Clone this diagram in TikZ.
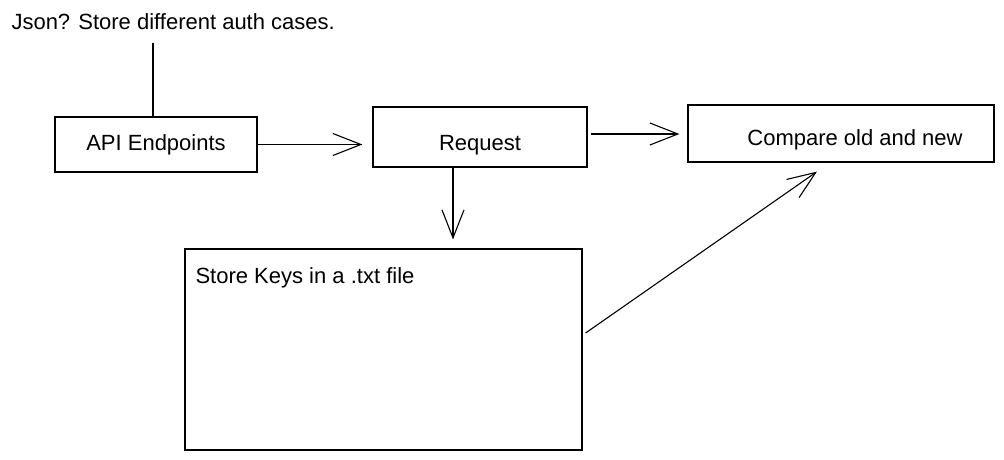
\documentclass[tikz,border=0pt]{standalone}
\usepackage{fontspec}
\setmainfont{Liberation Sans}
\usepackage{tikz}
\usetikzlibrary{arrows.meta}

\begin{document}
\begin{tikzpicture}[x=1pt,y=-1pt,
        box/.style={shape=rectangle,draw=black,line width=1.2pt,inner sep=0pt},
        link/.style={line width=1.1pt,-{Straight Barb[length=28pt,width=22pt]}},
        font=\fontsize{22}{26}\selectfont]
        \useasboundingbox (0,0) rectangle (1004,460);

        \node[anchor=west] (J) at (8,22) {Json? Store different auth cases.};
        \node[box,minimum width=202pt,minimum height=55pt] (A) at (156,144.5) {API Endpoints};
        \node[box,minimum width=214pt,minimum height=60pt] (R) at (480,137) {\raisebox{-6pt}[\height][0pt]{Request}};
        \node[box,minimum width=306pt,minimum height=57pt] (C) at (841,133.5) {\hspace{28pt}\raisebox{-4pt}[\height][0pt]{Compare old and new}};
        \node[box,minimum width=397pt,minimum height=201pt] (S) at (383.5,349.5) {};
        \node[anchor=west] (K) at (192,278) {Store Keys in a .txt file};

        \coordinate (J1) at (153,43);
        \draw [line width=1.1pt](J1) -- (J1 |- A.north);

        \path [link,shorten >=10pt](A.east) edge (R.west |- A.east);
        \path [link,shorten <=3pt,shorten >=8pt](R.east |- 0,134) edge (C.west |- 0,134);
        \path [link,shorten >=9pt](R.south -| 453,0) edge (S.north -| 453,0);
        \draw [link]([xshift=3pt,yshift=16.5pt]S.east) to ([xshift=-24pt,yshift=-9pt]C.south);
    \end{tikzpicture}
\end{document}
